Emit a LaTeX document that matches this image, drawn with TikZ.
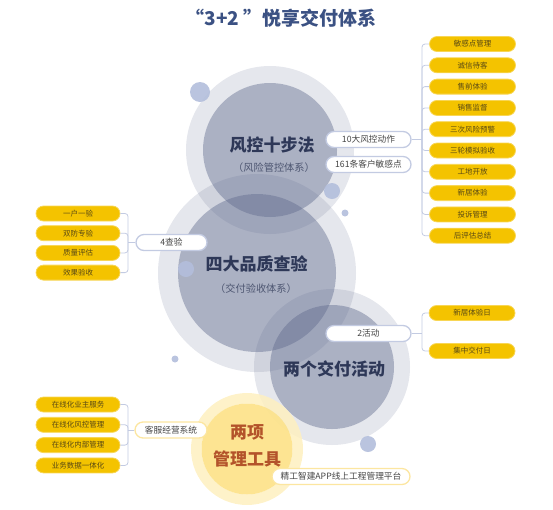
\documentclass[tikz,border=0pt]{standalone}
\usepackage{fontspec}
\setmainfont{Noto Sans CJK SC}
\definecolor{blobc}{HTML}{5E698C}
\definecolor{dotc}{HTML}{B3BEDC}
\definecolor{goldc}{HTML}{F4C300}
\definecolor{goldline}{HTML}{F8D655}
\definecolor{goldtext}{HTML}{5A4A14}
\definecolor{tagline}{HTML}{C3CBE2}
\definecolor{creamline}{HTML}{FCE6A0}
\definecolor{tagtext}{HTML}{454545}
\definecolor{headc}{HTML}{3B5183}
\definecolor{navy}{HTML}{2E3858}
\definecolor{rust}{HTML}{B3532A}
\definecolor{sunin}{HTML}{FDE38C}
\definecolor{sunout}{HTML}{FEF0C0}
\definecolor{linkc}{HTML}{C3CBE2}

\begin{document}
\begin{tikzpicture}[x=1pt, y=-1pt,
    halo/.style={fill=blobc, fill opacity=0.16, even odd rule},
    core/.style={fill=blobc, fill opacity=0.52},
    dot/.style={fill=dotc, fill opacity=0.9},
    bigtitle/.style={text=navy, font=\fontsize{17}{17}\selectfont\bfseries},
    subtitle/.style={text=navy!85, font=\fontsize{10.2}{10.2}\selectfont},
    tag/.style={fill=white, draw=tagline, line width=1.3pt, rounded corners=8pt,
      minimum height=16pt, inner sep=0pt, text=tagtext,
      font=\fontsize{8.7}{8.7}\selectfont},
    creamtag/.style={tag, draw=creamline},
    chip/.style={fill=goldc, draw=goldline, line width=0.8pt, rounded corners=7.5pt,
      minimum height=15pt, minimum width=86pt, inner sep=0pt, text=goldtext,
      font=\fontsize{7.5}{7.5}\selectfont},
    link/.style={draw=linkc, line width=0.8pt, rounded corners=3pt}
  ]
  \useasboundingbox (0,0) rectangle (553,509);

  \node (head) at (281,18) [text=headc, font=\fontsize{19}{19}\selectfont\bfseries] {“3+2\ ”悦享交付体系};

  % circles
  \fill[halo] (270,150) circle (84pt) circle (67pt);
  \fill[core] (270,150) circle (67pt);
  \fill[halo] (257,273) circle (99pt) circle (79pt);
  \fill[core] (257,273) circle (79pt);
  \fill[halo] (332,367) circle (78pt) circle (62pt);
  \fill[core] (332,367) circle (62pt);
  \fill[sunout, fill opacity=0.85, even odd rule] (247,449) circle (56pt) circle (45.5pt);
  \fill[sunin, fill opacity=0.95] (247,449) circle (45.5pt);

  \fill[dot] (200,92) circle (10pt);
  \fill[dot] (332,191) circle (8pt);
  \fill[dot] (345,213) circle (3.5pt);
  \fill[dot] (186,269) circle (8pt);
  \fill[dot] (175,359) circle (3.5pt);
  \fill[dot] (368,444) circle (8pt);

  \node (fk) at (272,145) [bigtitle] {风控十步法};
  \node (fksub) at (274,168) [subtitle] {（风险管控体系）};
  \node (sz) at (256.5,264) [bigtitle] {四大品质查验};
  \node (szsub) at (256,289) [subtitle] {（交付验收体系）};
  \node (hd) at (334,369) [bigtitle] {两个交付活动};
  \node (gj1) at (247,432) [bigtitle, text=rust] {两项};
  \node (gj2) at (247,459) [bigtitle, text=rust] {管理工具};

  % labels
  \node (dz) at (368.5,139.5) [tag, minimum width=85pt] {10大风控动作};
  \node (mg) at (368.5,164.5) [tag, minimum width=85pt] {161条客户敏感点};
  \node (cy) at (171.5,242.5) [tag, minimum width=71pt] {4查验};
  \node (hdl) at (368.5,333.5) [tag, minimum width=85pt] {2活动};
  \node (kf) at (171,430) [creamtag, minimum width=72pt] {客服经营系统};
  \node (jg) at (341,476.5) [creamtag, minimum width=138pt] {精工智建APP线上工程管理平台};

  % leaves
  \foreach \t [count=\i] in {敏感点管理, 诚信待客, 售前体验, 销售监督, 三次风险预警,
      三轮模拟验收, 工地开放, 新居体验, 投诉管理, 后评估总结}
    \node (r\i) at (472.5, {44+21.3*(\i-1)}) [chip] {\t};
  \foreach \t [count=\i] in {一户一验, 双防专验, 质量评估, 效果验收}
    \node (l\i) at (78, {213.5+19.7*(\i-1)}) [chip, minimum width=84pt] {\t};
  \foreach \t [count=\i] in {新居体验日, 集中交付日}
    \node (a\i) at (472, {313+38*(\i-1)}) [chip] {\t};
  \foreach \t [count=\i] in {在线化业主服务, 在线化风控管理, 在线化内部管理, 业务数据一体化}
    \node (s\i) at (78, {404.5+20.3*(\i-1)}) [chip, minimum width=84pt] {\t};

  % links
  \coordinate (rsp) at (422,139.5);
  \coordinate (lsp) at (128,242.5);
  \coordinate (asp) at (422,333.5);
  \coordinate (ssp) at (128,430);
  \draw[link] (dz.east) -- (rsp);
  \foreach \i in {1,...,10} \draw[link] (rsp) |- (r\i.west);
  \draw[link] (cy.west) -- (lsp);
  \foreach \i in {1,...,4} \draw[link] (lsp) |- (l\i.east);
  \draw[link] (hdl.east) -- (asp);
  \foreach \i in {1,2} \draw[link] (asp) |- (a\i.west);
  \draw[link] (kf.west) -- (ssp);
  \foreach \i in {1,...,4} \draw[link] (ssp) |- (s\i.east);
\end{tikzpicture}
\end{document}
